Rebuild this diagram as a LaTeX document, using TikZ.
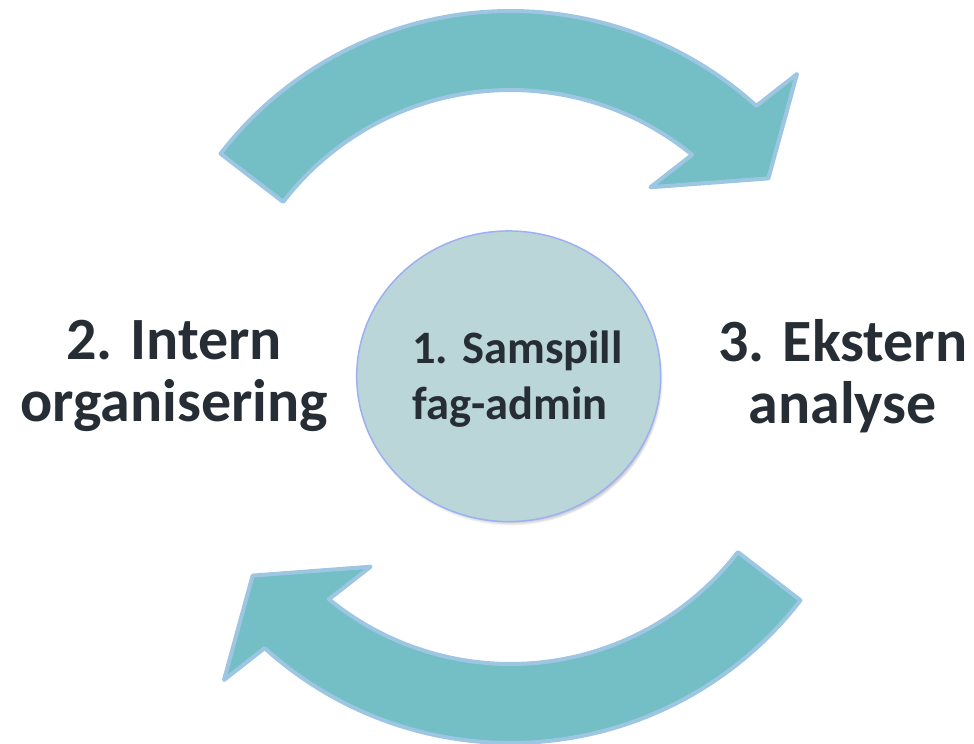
\documentclass[tikz,border=0pt]{standalone}
\usepackage{fontspec}
\setmainfont{Carlito}
\usetikzlibrary{shapes.geometric}
\definecolor{arrowfill}{HTML}{73BFC5}
\definecolor{arrowedge}{HTML}{9DC6E3}
\definecolor{hubfill}{HTML}{BAD6D8}
\definecolor{hubedge}{HTML}{9DB0F2}
\definecolor{ink}{HTML}{262D35}
\newcommand{\cyclearrow} {
    \draw[sweep] (142.4:366) arc[start angle=142.4, end angle=47.8, radius=366]
        -- (46.6:417) -- (37.6:325.5) -- (53.6:235.7) -- (50.75:287)
        arc[start angle=50.75, end angle=142.4, radius=287] -- cycle;
}
\tikzset{
    sweep/.style={
        fill=arrowfill,
        draw=arrowedge,
        line width=1.2mm,
        line join=round
    },
    hub/.style={
        ellipse,
        minimum width=91.2mm,
        minimum height=87.2mm,
        fill=hubfill,
        draw=hubedge,
        line width=0.45mm
    },
    stage/.style={
        text=ink,
        inner sep=0pt,
        align=center,
        font=\fontsize{51.2pt}{53.3pt}\selectfont\bfseries
    }
}

\begin{document}
\begin{tikzpicture}[x=0.3mm,y=0.3mm]
    \useasboundingbox (0,0) rectangle (974,743);
    \coordinate (centre) at (510.5,366);
    % the two turning arrows
    \begin{scope}[shift={(centre)}]
        \cyclearrow
    \end{scope}
    \begin{scope}[shift={(centre)},rotate=180]
        \cyclearrow
    \end{scope}
    % soft shadow under the middle
    \foreach \s in {0,1,...,5}
        \fill[black,opacity=0.035] (510.7+0.4*\s,362.7-0.3*\s)
            ellipse[x radius=152-\s, y radius=145.3-\s];
    \node[hub] (hub) at (508.7,366.7) {};
    \node[stage,align=left,font=\fontsize{39.7pt}{48.4pt}\selectfont\bfseries]
        (samspill) at (517.5,364) {1. Samspill\\fag-admin};
    % sides
    \node[stage] (intern) at (174,367) {2. Intern\\organisering};
    \node[stage] (ekstern) at (842.8,367) {3. Ekstern\\analyse};
\end{tikzpicture}
\end{document}
